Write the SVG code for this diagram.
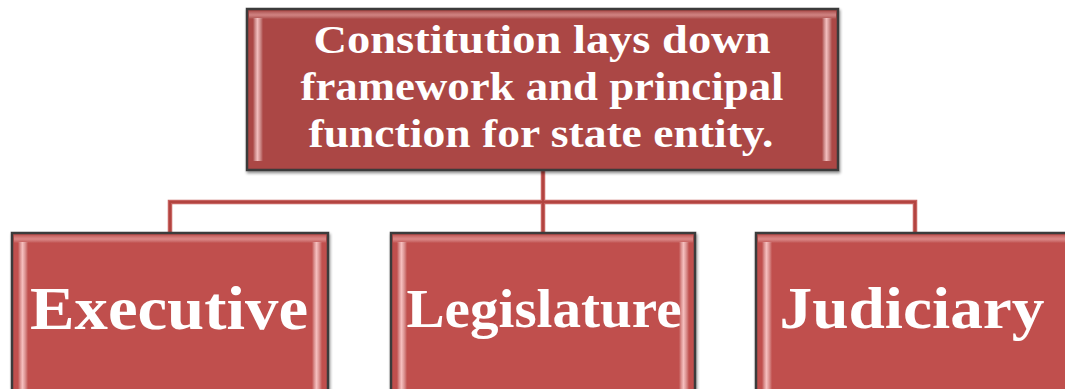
<svg xmlns="http://www.w3.org/2000/svg" width="1065" height="389" viewBox="0 0 1065 389">
  <defs>
    <filter id="sh" x="-5%" y="-5%" width="110%" height="115%">
      <feGaussianBlur in="SourceAlpha" stdDeviation="1.5"/>
      <feOffset dx="1" dy="2" result="b"/>
      <feComponentTransfer><feFuncA type="linear" slope="0.45"/></feComponentTransfer>
      <feMerge><feMergeNode/><feMergeNode in="SourceGraphic"/></feMerge>
    </filter>
    <linearGradient id="vstrip" x1="0" y1="0" x2="1" y2="0">
      <stop offset="0" stop-color="#ffffff" stop-opacity="0"/>
      <stop offset="0.45" stop-color="#ffd0d0" stop-opacity="0.85"/>
      <stop offset="1" stop-color="#ffffff" stop-opacity="0"/>
    </linearGradient>
    <linearGradient id="hstrip" x1="0" y1="0" x2="0" y2="1">
      <stop offset="0" stop-color="#ffffff" stop-opacity="0.05"/>
      <stop offset="0.5" stop-color="#ffc8c8" stop-opacity="0.45"/>
      <stop offset="1" stop-color="#ffffff" stop-opacity="0"/>
    </linearGradient>
  </defs>
  <style>
    .box { stroke: #3a3a3a; stroke-width: 2.5; }
    .top { fill: #ab4745; }
    .bot { fill: #c0504d; }
    .conn { fill: none; stroke: #c0504d; stroke-width: 4.5; stroke-opacity: 0.9; }
    .conn2 { fill: none; stroke: #b24440; stroke-width: 2; }
    .t { font-family: "Liberation Serif", "DejaVu Serif", serif; font-weight: bold; fill: #ffffff; text-anchor: middle; }
  </style>

  <g id="connectors">
    <path class="conn" d="M543,170 V233 M170,233 V202 H915 V233"/>
    <path class="conn2" d="M543,170 V233 M170,233 V202 H915 V233"/>
  </g>

  <g id="node-constitution">
    <rect class="box top" x="247" y="9" width="591" height="161" filter="url(#sh)"/>
    <rect x="249" y="11" width="587" height="8" fill="url(#hstrip)"/>
    <rect x="253" y="18" width="10" height="143" fill="url(#vstrip)"/>
    <rect x="822" y="18" width="10" height="143" fill="url(#vstrip)"/>
    <text class="t" font-size="40" x="542" y="53" textLength="457" lengthAdjust="spacingAndGlyphs">Constitution lays down</text>
    <text class="t" font-size="40" x="542" y="100" textLength="483" lengthAdjust="spacingAndGlyphs">framework and principal</text>
    <text class="t" font-size="40" x="541" y="147" textLength="465" lengthAdjust="spacingAndGlyphs">function for state entity.</text>
  </g>

  <g id="node-executive">
    <rect class="box bot" x="12" y="233" width="316" height="170" filter="url(#sh)"/>
    <rect x="14" y="235" width="312" height="8" fill="url(#hstrip)"/>
    <rect x="18" y="242" width="10" height="150" fill="url(#vstrip)"/>
    <rect x="312" y="242" width="10" height="150" fill="url(#vstrip)"/>
    <text class="t" font-size="62" x="169" y="329" textLength="278" lengthAdjust="spacingAndGlyphs">Executive</text>
  </g>

  <g id="node-legislature">
    <rect class="box bot" x="391" y="233" width="304" height="170" filter="url(#sh)"/>
    <rect x="393" y="235" width="300" height="8" fill="url(#hstrip)"/>
    <rect x="397" y="242" width="10" height="150" fill="url(#vstrip)"/>
    <rect x="679" y="242" width="10" height="150" fill="url(#vstrip)"/>
    <text class="t" font-size="54" x="544" y="327" textLength="275" lengthAdjust="spacingAndGlyphs">Legislature</text>
  </g>

  <g id="node-judiciary">
    <rect class="box bot" x="756" y="233" width="318" height="170" filter="url(#sh)"/>
    <rect x="758" y="235" width="314" height="8" fill="url(#hstrip)"/>
    <rect x="762" y="242" width="10" height="150" fill="url(#vstrip)"/>
    <text class="t" font-size="60" x="912" y="328" textLength="265" lengthAdjust="spacingAndGlyphs">Judiciary</text>
  </g>
</svg>
